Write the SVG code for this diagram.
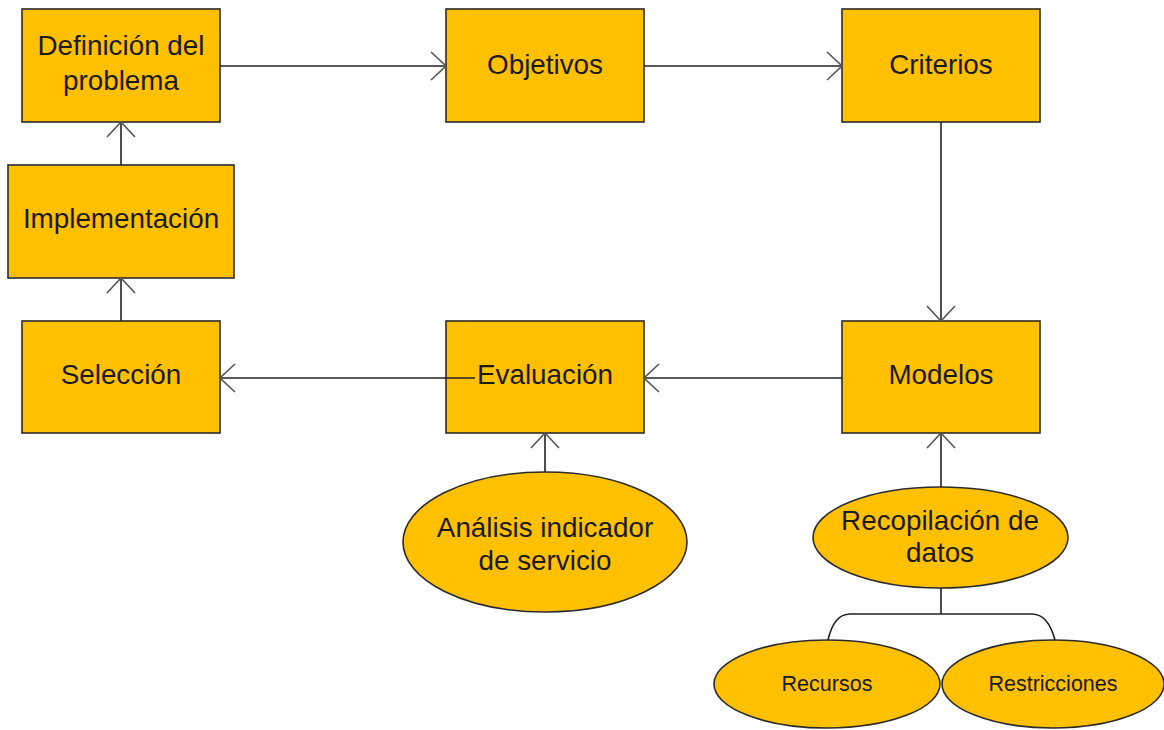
<svg xmlns="http://www.w3.org/2000/svg" width="1164" height="730" viewBox="0 0 1164 730">
<style>
.n{fill:#FFC000;stroke:#2b2b2b;stroke-width:1.6}
.t{font-family:"Liberation Sans",Arial,sans-serif;font-size:27.8px;fill:#1a1a1a;text-anchor:middle}
.s{font-family:"Liberation Sans",Arial,sans-serif;font-size:21.5px;fill:#1a1a1a;text-anchor:middle}
.c{fill:none;stroke:#222;stroke-width:1.6}
</style>
<defs>
<marker id="ah" markerUnits="userSpaceOnUse" viewBox="0 0 17 30" refX="16" refY="15" markerWidth="17" markerHeight="30" orient="auto">
<path d="M1,1 L16,15 L1,29" fill="none" stroke="#555" stroke-width="1.6"/>
</marker>
</defs>
<rect width="1164" height="730" fill="#fff"/>
<g id="definicion"><rect class="n" x="22" y="9" width="198" height="113"/><text class="t" x="121" y="55">Definición del</text><text class="t" x="121" y="90">problema</text></g>
<g id="objetivos"><rect class="n" x="446" y="9" width="198" height="113"/><text class="t" x="545" y="74">Objetivos</text></g>
<g id="criterios"><rect class="n" x="842" y="9" width="198" height="113"/><text class="t" x="941" y="74">Criterios</text></g>
<g id="implementacion"><rect class="n" x="8" y="165" width="226" height="113"/><text class="t" x="121" y="228">Implementación</text></g>
<g id="seleccion"><rect class="n" x="22" y="321" width="198" height="112"/><text class="t" x="121" y="384">Selección</text></g>
<g id="evaluacion"><rect class="n" x="446" y="321" width="198" height="112"/><text class="t" x="545" y="384">Evaluación</text></g>
<g id="modelos"><rect class="n" x="842" y="321" width="198" height="112"/><text class="t" x="941" y="384">Modelos</text></g>
<g id="analisis"><ellipse class="n" cx="545" cy="542" rx="142" ry="70"/><text class="t" x="545" y="537">Análisis indicador</text><text class="t" x="545" y="570">de servicio</text></g>
<g id="recopilacion"><ellipse class="n" cx="940.5" cy="537.5" rx="127.5" ry="50.5"/><text class="t" x="940" y="530">Recopilación de</text><text class="t" x="940" y="562">datos</text></g>
<g id="recursos"><ellipse class="n" cx="827" cy="684" rx="113" ry="44"/><text class="s" x="827" y="691">Recursos</text></g>
<g id="restricciones"><ellipse class="n" cx="1053" cy="684" rx="111" ry="44"/><text class="s" x="1053" y="691">Restricciones</text></g>
<g id="connectors">
<line class="c" x1="220" y1="66" x2="446" y2="66" marker-end="url(#ah)"/>
<line class="c" x1="644" y1="66" x2="842" y2="66" marker-end="url(#ah)"/>
<line class="c" x1="941" y1="122" x2="941" y2="321" marker-end="url(#ah)"/>
<line class="c" x1="842" y1="378" x2="644" y2="378" marker-end="url(#ah)"/>
<line class="c" x1="475" y1="378" x2="220" y2="378" marker-end="url(#ah)"/>
<line class="c" x1="121" y1="321" x2="121" y2="278" marker-end="url(#ah)"/>
<line class="c" x1="121" y1="165" x2="121" y2="122" marker-end="url(#ah)"/>
<line class="c" x1="545" y1="472" x2="545" y2="433" marker-end="url(#ah)"/>
<line class="c" x1="941" y1="487" x2="941" y2="433" marker-end="url(#ah)"/>
<path class="c" d="M941,588 L941,614 M828,640 Q834,614 850,614 L1032,614 Q1048,614 1055,640"/>
</g>
</svg>
